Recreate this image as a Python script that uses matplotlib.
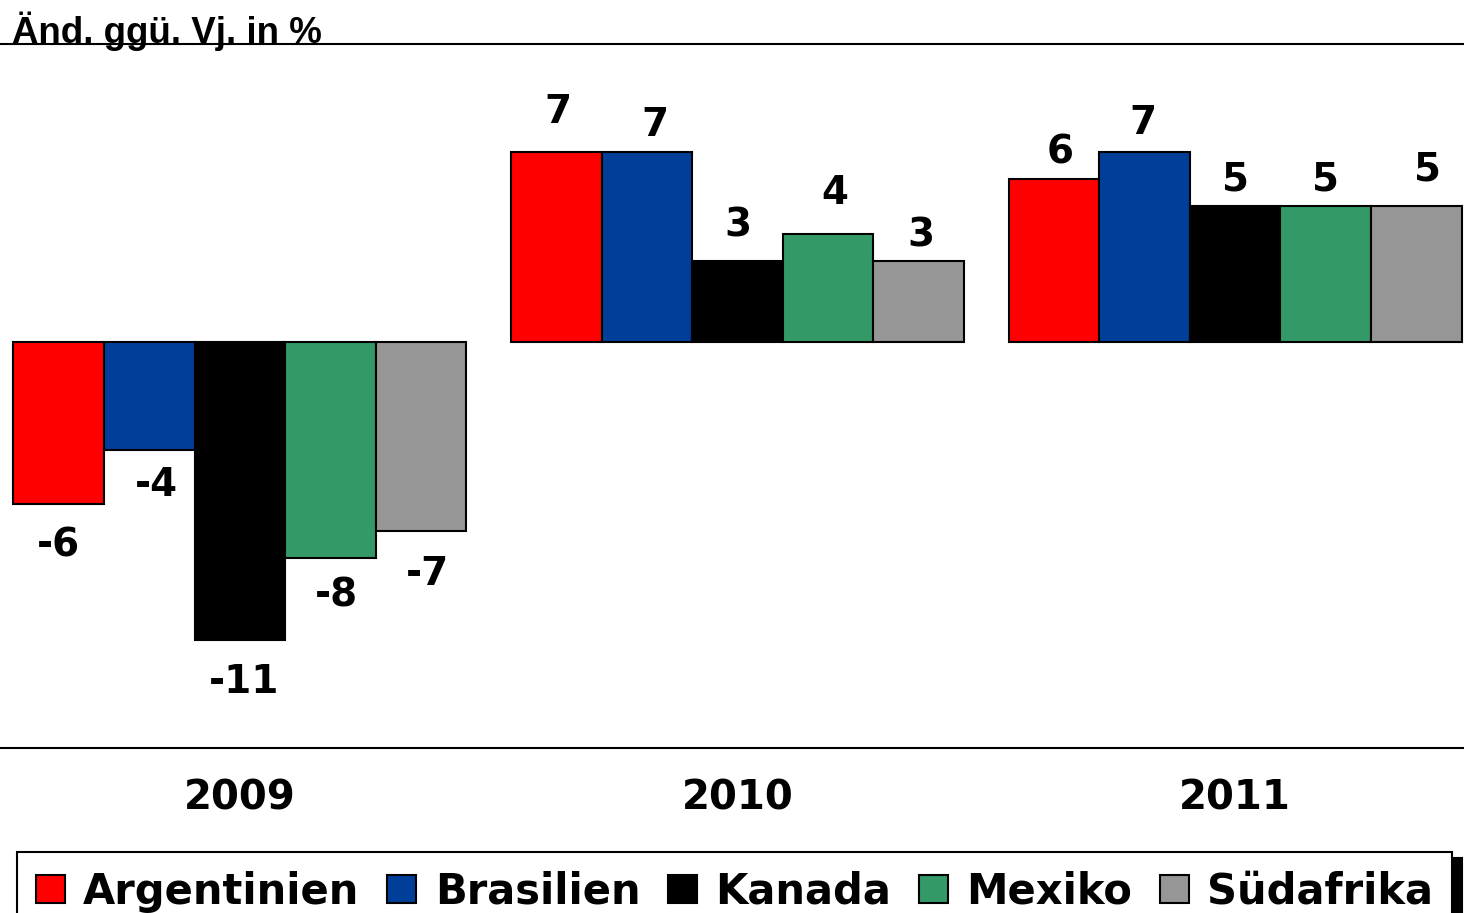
import numpy as np
import matplotlib
matplotlib.use("Agg")
import matplotlib.pyplot as plt

# --- data ---
years = ["2009", "2010", "2011"]
countries = ["Argentinien", "Brasilien", "Kanada", "Mexiko", "Südafrika"]
argentinien = [-6, 7, 6]
brasilien = [-4, 7, 7]
kanada = [-11, 3, 5]
mexiko = [-8, 4, 5]
suedafrika = [-7, 3, 5]
series = [argentinien, brasilien, kanada, mexiko, suedafrika]

colors = ["#FF0000", "#003F99", "#000000", "#339966", "#969696"]

# label offsets (pixels) from bar end: (dx, dy) per country per year
label_dx = [[0, 2, 6], [7, 8, -2], [4, 0, 0], [6, 7, 0], [7, 2, 11]]
label_dy = [[41, 40, 27], [35, 27, 29], [42, 35, 27], [37, 41, 27], [43, 25, 37]]

DPI = 100
fig = plt.figure(figsize=(14.64, 9.13), dpi=DPI)
ax = fig.add_axes([0, 1 - 748 / 913, 1, (748 - 44) / 913])

x = np.arange(len(years))
w = 0.182
bold_wide = {"family": "DejaVu Sans", "weight": "bold"}

handles = []
for i, (vals, c) in enumerate(zip(series, colors)):
    pos = x + (i - 2) * w
    b = ax.bar(pos, vals, width=w, color=c, edgecolor="black", linewidth=1.5,
               label=countries[i], zorder=2)
    handles.append(b)
    for j, v in enumerate(vals):
        sign = 1 if v >= 0 else -1
        ax.annotate(f"{v}", (pos[j], v),
                    xytext=(label_dx[i][j] * 0.72, sign * label_dy[i][j] * 0.72),
                    textcoords="offset points", ha="center", va="center",
                    fontsize=28, **bold_wide)

ax.set_xlim(-0.482, 2.46)
ax.set_ylim(-15, 11)
ax.set_yticks([])
ax.set_xticks(x, years)
ax.tick_params(axis="x", length=0, pad=22)
for lbl in ax.get_xticklabels():
    lbl.set_fontfamily("DejaVu Sans")
    lbl.set_fontweight("bold")
    lbl.set_fontsize(29)
for side in ["left", "right"]:
    ax.spines[side].set_visible(False)
for side in ["top", "bottom"]:
    ax.spines[side].set_linewidth(1.5)

fig.text(12 / 1464, 1 - 43 / 913, "Änd. ggü. Vj. in %", ha="left", va="baseline",
         fontsize=26.5, fontweight="bold", family="Liberation Sans")

leg = fig.legend(handles=handles, loc="upper left", ncol=5, mode="expand",
                 bbox_to_anchor=(17 / 1464, 0, (1452 - 17) / 1464, 1 - 852 / 913),
                 borderaxespad=0, frameon=True, fancybox=False,
                 edgecolor="black", framealpha=1,
                 handlelength=0.7, handleheight=0.63, handletextpad=0.44,
                 columnspacing=0.6, borderpad=0.45,
                 prop={"family": "DejaVu Sans", "weight": "bold", "size": 30},
                 shadow={"ox": 7, "oy": -4, "color": "black", "alpha": 1})
leg.get_frame().set_linewidth(1.5)

fig.savefig("out.png", dpi=DPI)
